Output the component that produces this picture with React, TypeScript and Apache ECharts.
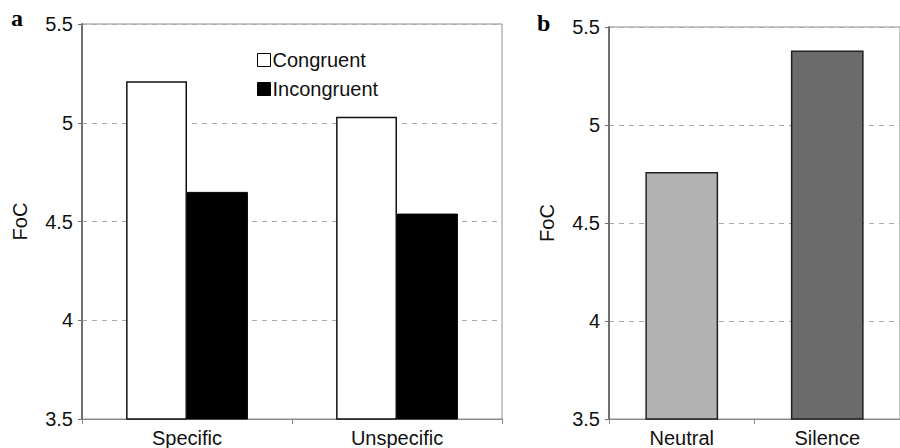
import React, { useEffect, useRef } from "react";
import * as echarts from "echarts";

const catsA = ["Specific", "Unspecific"];
const congruent = [5.21, 5.03];
const incongruent = [4.65, 4.54];
const catsB = ["Neutral", "Silence"];
const valuesB = [4.76, 5.38];
const colorsB = ["#b3b3b3", "#6b6b6b"];
const yMin = 3.5;
const yMax = 5.5;
const yStep = 0.5;

const FONT = '"Liberation Sans", Arial, sans-serif';
const FS = 20;

export default function App() {
  const ref = useRef<HTMLDivElement>(null);
  useEffect(() => {
    if (!ref.current) return;
    const chart = echarts.init(ref.current, undefined, { renderer: "svg" });
    const yAxisBase = (gridIndex: number) => ({
      type: "value",
      gridIndex,
      min: yMin,
      max: yMax,
      interval: yStep,
      name: "FoC",
      nameLocation: "middle",
      nameRotate: 90,
      nameGap: 52,
      nameTextStyle: { fontFamily: FONT, fontSize: FS, color: "#111" },
      axisLine: { show: true, lineStyle: { color: "#707070", width: 2 } },
      axisTick: { show: true, length: 4, lineStyle: { color: "#707070" } },
      axisLabel: { fontFamily: FONT, fontSize: FS, color: "#111", margin: 9 },
      splitLine: { show: true, lineStyle: { color: "#aaa", type: [5, 5], width: 1 } },
    });
    const xAxisBase = (gridIndex: number, data: string[]) => ({
      type: "category",
      gridIndex,
      data,
      axisLine: { show: true, lineStyle: { color: "#888", width: 1 } },
      axisTick: { show: true, length: 5, lineStyle: { color: "#888" } },
      axisLabel: { fontFamily: FONT, fontSize: FS, color: "#111", margin: 9 },
    });
    chart.setOption({
      animation: false,
      backgroundColor: "#fff",
      grid: [
        { left: 82, top: 24, right: 398, bottom: 26, show: true, borderColor: "#8f8f8f", borderWidth: 1, containLabel: false },
        { left: 609, top: 27, right: -11, bottom: 28, show: true, borderColor: "#8f8f8f", borderWidth: 1, containLabel: false },
      ],
      xAxis: [xAxisBase(0, catsA), xAxisBase(1, catsB)],
      yAxis: [yAxisBase(0), yAxisBase(1)],
      legend: {
        orient: "vertical",
        left: 257,
        top: 50,
        padding: 0,
        itemWidth: 13,
        itemHeight: 13,
        itemGap: 9,
        icon: "rect",
        textStyle: { fontFamily: FONT, fontSize: FS, color: "#111", padding: [0, 0, 0, -3] },
        data: [
          { name: "Congruent", itemStyle: { color: "#fff", borderColor: "#000", borderWidth: 1 } },
          { name: "Incongruent", itemStyle: { color: "#000", borderColor: "#000", borderWidth: 1 } },
        ],
      },
      graphic: [
        { type: "text", x: 11, y: 30, style: { text: "a", font: 'bold 24px "Liberation Serif", serif', fill: "#000", textVerticalAlign: "bottom" } },
        { type: "text", x: 537, y: 35, style: { text: "b", font: 'bold 24px "Liberation Serif", serif', fill: "#000", textVerticalAlign: "bottom" } },
      ],
      series: [
        {
          name: "Congruent",
          type: "bar",
          xAxisIndex: 0,
          yAxisIndex: 0,
          data: congruent,
          barGap: "0%",
          barCategoryGap: "42%",
          itemStyle: { color: "#fff", borderColor: "#111", borderWidth: 1.5 },
        },
        {
          name: "Incongruent",
          type: "bar",
          xAxisIndex: 0,
          yAxisIndex: 0,
          data: incongruent,
          barGap: "0%",
          barCategoryGap: "42%",
          itemStyle: { color: "#000", borderColor: "#000", borderWidth: 1 },
        },
        {
          name: "Condition",
          type: "bar",
          xAxisIndex: 1,
          yAxisIndex: 1,
          barCategoryGap: "50%",
          data: valuesB.map((v, i) => ({
            value: v,
            itemStyle: { color: colorsB[i], borderColor: "#222", borderWidth: 1.5 },
          })),
        },
      ],
    });
    return () => chart.dispose();
  }, []);
  return (
    <div
      ref={ref}
      style={{ position: "fixed", left: 0, top: 0, width: 900, height: 448, background: "#fff" }}
    />
  );
}
